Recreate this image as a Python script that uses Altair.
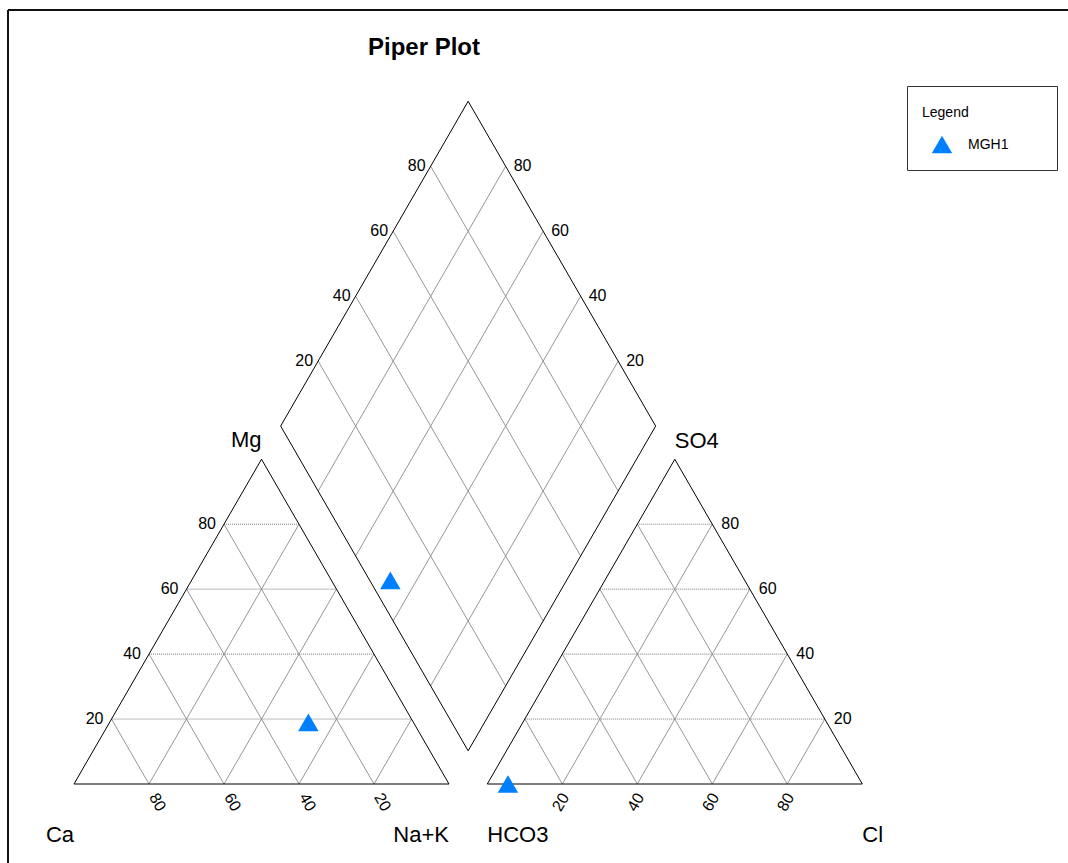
import altair as alt
import numpy as np
import pandas as pd

# ---- sample chemistry (percent of meq/L) ----
samples = ["MGH1"]
ca = [28.0]
mg = [19.0]
na_k = [53.0]
hco3 = [94.5]
so4 = [0.0]
cl = [5.5]

grid_ticks = [20, 40, 60, 80]

# ---- layout of the Piper diagram (pixels) ----
W, H = 1068, 863
SIDE = 375.0                 # side length of each triangle / diamond
GAP = 38.3                   # horizontal gap between the two triangles
X0, Y0 = 74.0, 784.0         # left corner of the cation triangle
SQ = np.sqrt(3) / 2
TRI_H = SIDE * SQ
AX0 = X0 + SIDE + GAP        # left corner of the anion triangle
DBX, DBY = X0 + SIDE + GAP / 2, Y0 - GAP * SQ   # bottom vertex of the diamond

FONT = "Liberation Sans"
POINT_COLOR = "#0080FF"


def tern_xy(x0, top, right):
    """Ternary fractions (top corner, right corner) -> canvas position."""
    return x0 + (right + top / 2) * SIDE, Y0 - top * TRI_H


def cation_xy(f_mg, f_nak):
    return tern_xy(X0, f_mg, f_nak)


def anion_xy(f_so4, f_cl):
    return tern_xy(AX0, f_so4, f_cl)


def diamond_xy(f_camg, f_so4cl):
    return DBX + (f_so4cl - f_camg) * SIDE / 2, DBY - (f_camg + f_so4cl) * TRI_H


# ---- line segments ----
outline, grid_h, grid_d = [], [], []


def seg(rows, p, q):
    rows.append({"x": p[0], "y": p[1], "x2": q[0], "y2": q[1]})


for x0 in (X0, AX0):
    a = tern_xy(x0, 0, 0)
    b = tern_xy(x0, 0, 1)
    c = tern_xy(x0, 1, 0)
    seg(outline, a, b)
    seg(outline, b, c)
    seg(outline, c, a)
    for t in grid_ticks:
        f = t / 100
        seg(grid_h, tern_xy(x0, f, 0), tern_xy(x0, f, 1 - f))
        seg(grid_d, tern_xy(x0, 0, f), tern_xy(x0, 1 - f, f))
        seg(grid_d, tern_xy(x0, 0, 1 - f), tern_xy(x0, 1 - f, 0))

d_bot, d_left = diamond_xy(0, 0), diamond_xy(1, 0)
d_top, d_right = diamond_xy(1, 1), diamond_xy(0, 1)
for p, q in [(d_bot, d_left), (d_left, d_top), (d_top, d_right), (d_right, d_bot)]:
    seg(outline, p, q)
for t in grid_ticks:
    f = t / 100
    seg(grid_d, diamond_xy(f, 0), diamond_xy(f, 1))
    seg(grid_d, diamond_xy(0, f), diamond_xy(1, f))

# frame around the figure
frame = [{"x": 8, "y": 10, "x2": W, "y2": 10}, {"x": 8, "y": 10, "x2": 8, "y2": H}]

# ---- tick labels ----
lab_right, lab_left, lab_down, lab_up = [], [], [], []
for t in grid_ticks:
    f = t / 100
    x, y = cation_xy(f, 0)
    lab_right.append({"x": x - 8, "y": y, "label": str(t)})          # Mg
    x, y = cation_xy(0, 1 - f)
    lab_down.append({"x": x + 4, "y": y + 10.5, "label": str(t)})    # Ca
    x, y = anion_xy(f, 1 - f)
    lab_left.append({"x": x + 9, "y": y, "label": str(t)})           # SO4
    x, y = anion_xy(0, f)
    lab_up.append({"x": x + 3, "y": y + 10.5, "label": str(t)})      # Cl
    x, y = diamond_xy(1, f)
    lab_right.append({"x": x - 5, "y": y, "label": str(t)})          # SO4+Cl
    x, y = diamond_xy(f, 1)
    lab_left.append({"x": x + 8, "y": y, "label": str(t)})           # Ca+Mg

# ---- corner names ----
c_left, c_right, c_top = cation_xy(0, 0), cation_xy(0, 1), cation_xy(1, 0)
a_left, a_right, a_top = anion_xy(0, 0), anion_xy(0, 1), anion_xy(1, 0)
names_r = pd.DataFrame([
    {"x": c_left[0], "y": 842, "label": "Ca"},
    {"x": c_right[0], "y": 842, "label": "Na+K"},
    {"x": c_top[0], "y": c_top[1] - 12, "label": "Mg"},
])
names_l = pd.DataFrame([
    {"x": a_left[0], "y": 842, "label": "HCO3"},
    {"x": a_right[0], "y": 842, "label": "Cl"},
    {"x": a_top[0], "y": a_top[1] - 11, "label": "SO4"},
])

# ---- sample points projected into the three fields ----
pts = []
for i, s in enumerate(samples):
    tot_c = ca[i] + mg[i] + na_k[i]
    tot_a = hco3[i] + so4[i] + cl[i]
    f_mg, f_nak = mg[i] / tot_c, na_k[i] / tot_c
    f_so4, f_cl = so4[i] / tot_a, cl[i] / tot_a
    for px, py in (cation_xy(f_mg, f_nak), anion_xy(f_so4, f_cl),
                   diamond_xy((ca[i] + mg[i]) / tot_c, f_so4 + f_cl)):
        pts.append({"x": px, "y": py, "sample": s})
pts = pd.DataFrame(pts)

xs = alt.Scale(domain=[0, W], nice=False, zero=False)
ys = alt.Scale(domain=[0, H], nice=False, zero=False, reverse=True)
X = alt.X("x:Q", scale=xs, axis=None)
Y = alt.Y("y:Q", scale=ys, axis=None)


def rules(rows, **style):
    return alt.Chart(pd.DataFrame(rows)).mark_rule(**style).encode(
        x=X, y=Y, x2="x2:Q", y2="y2:Q")


def texts(rows, **style):
    return alt.Chart(pd.DataFrame(rows)).mark_text(font=FONT, color="black", **style).encode(
        x=X, y=Y, text="label:N")


layers = [
    rules(frame, color="#111111", strokeWidth=2),
    rules(grid_h, color="#7a7a7a", strokeWidth=1, strokeDash=[1, 1]),
    rules(grid_d, color="#8a8a8a", strokeWidth=0.9),
    rules(outline, color="black", strokeWidth=1),
    texts(lab_right, fontSize=16, align="right", baseline="middle"),
    texts(lab_left, fontSize=16, align="left", baseline="middle"),
    texts(lab_down, fontSize=16, align="left", baseline="middle", angle=60),
    texts(lab_up, fontSize=16, align="right", baseline="middle", angle=300),
    texts(names_r, fontSize=22, align="right", baseline="alphabetic"),
    texts(names_l, fontSize=22, align="left", baseline="alphabetic"),
    texts([{"x": 424, "y": 55, "label": "Piper Plot"}], fontSize=24, fontWeight="bold",
          align="center", baseline="alphabetic"),
    alt.Chart(pts).mark_point(shape="triangle-up", filled=True, size=420,
                              color=POINT_COLOR, opacity=1).encode(x=X, y=Y),
]

# legend box
leg_box = pd.DataFrame([{"x": 907.5, "y": 86.5, "x2": 1057.5, "y2": 170.5}])
leg_sym = pd.DataFrame([{"x": 942, "y": 144.5, "sample": samples[0]}])
layers += [
    alt.Chart(leg_box).mark_rect(fill="white", stroke="#333333", strokeWidth=1).encode(
        x=X, y=Y, x2="x2:Q", y2="y2:Q"),
    texts([{"x": 922, "y": 117, "label": "Legend"}], fontSize=14, align="left",
          baseline="alphabetic"),
    alt.Chart(leg_sym).mark_point(shape="triangle-up", filled=True, size=420,
                                  color=POINT_COLOR, opacity=1).encode(x=X, y=Y),
    texts([{"x": 968, "y": 144.5, "label": samples[0]}], fontSize=14, align="left",
          baseline="middle"),
]

chart = alt.layer(*layers).properties(
    width=W, height=H, padding=0,
    autosize=alt.AutoSizeParams(type="none"),
    background="white",
).configure_view(stroke=None)

chart.save("out.html", embed_options={"renderer": "svg", "actions": False})
